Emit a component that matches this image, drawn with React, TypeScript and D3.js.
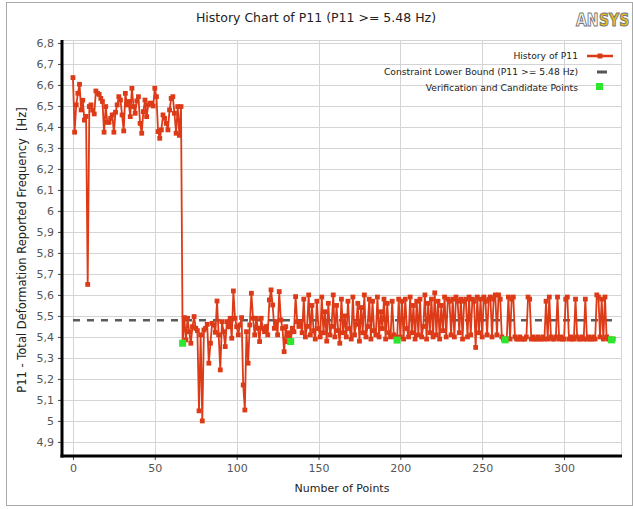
import React, { useRef, useEffect } from "react";
import * as d3 from "d3";

// history of P11 (index = point number)
const phaseStart = [
  6.635, 6.375, 6.505, 6.56, 6.603, 6.481, 6.527, 6.433, 6.45, 5.65,
  6.497, 6.505, 6.48, 6.462, 6.571, 6.56, 6.555, 6.536, 6.521, 6.375,
  6.497, 6.422, 6.422, 6.441, 6.457, 6.375, 6.47, 6.505, 6.544, 6.528,
  6.457, 6.381, 6.56, 6.505, 6.521, 6.449, 6.584, 6.497, 6.465, 6.524,
  6.544, 6.417, 6.37, 6.473, 6.528, 6.449, 6.505, 6.513, 6.513, 6.5,
  6.584, 6.544, 6.378, 6.346, 6.386, 6.457, 6.441, 6.417, 6.386, 6.481,
  6.536, 6.544, 6.465, 6.37, 6.497, 6.36, 6.497,
];
const phaseDrop = [
  5.37, 5.492, 5.386, 5.489, 5.425, 5.37, 5.449, 5.497, 5.441, 5.43,
  5.048, 5.41, 5.0, 5.433, 5.441, 5.46, 5.275, 5.37, 5.465, 5.457,
  5.422, 5.571, 5.41, 5.243, 5.473, 5.425, 5.354, 5.473, 5.449, 5.489,
  5.394, 5.619, 5.489, 5.449, 5.41, 5.457, 5.492, 5.171, 5.052, 5.425,
  5.275, 5.457, 5.608, 5.489, 5.41, 5.489, 5.441, 5.378, 5.489, 5.441,
  5.425, 5.449, 5.41, 5.576, 5.624, 5.552, 5.441, 5.473, 5.41, 5.616,
  5.481, 5.441, 5.33, 5.449, 5.378, 5.42, 5.378, 5.441, 5.425, 5.592,
  5.473, 5.45,
];
const phaseMid = [
  5.47, 5.42, 5.58, 5.4, 5.45, 5.6, 5.41, 5.55, 5.43, 5.39,
  5.57, 5.44, 5.4, 5.59, 5.42, 5.52, 5.38, 5.56, 5.41, 5.45,
  5.6, 5.4, 5.55, 5.43, 5.37, 5.58, 5.42, 5.5, 5.4, 5.57,
  5.44, 5.39, 5.59, 5.41, 5.46, 5.56, 5.38, 5.54, 5.42, 5.6,
  5.4, 5.45, 5.58, 5.39, 5.57, 5.43, 5.41, 5.59, 5.4, 5.52,
  5.44, 5.58, 5.39, 5.56, 5.42, 5.4, 5.57, 5.41, 5.4, 5.385,
  5.58, 5.4, 5.57, 5.39, 5.58, 5.44, 5.4, 5.59, 5.42, 5.55,
  5.39, 5.57, 5.41, 5.58, 5.4, 5.45, 5.6, 5.39, 5.56, 5.42,
  5.58, 5.4, 5.61, 5.41, 5.57, 5.39, 5.55, 5.43, 5.59, 5.4,
  5.58, 5.57, 5.41, 5.58, 5.4, 5.59, 5.57, 5.42, 5.58, 5.39,
  5.57, 5.58, 5.4, 5.59, 5.41, 5.58, 5.57, 5.35, 5.59, 5.42,
  5.58, 5.4, 5.59, 5.57, 5.41, 5.58, 5.59, 5.4, 5.58, 5.6,
  5.41, 5.6, 5.58, 5.4, 5.39,
];
const phaseEnd = [
  5.386, 5.39, 5.59, 5.39, 5.58, 5.59, 5.4, 5.39, 5.39, 5.4,
  5.39, 5.39, 5.39, 5.4, 5.59, 5.58, 5.39, 5.4, 5.39, 5.39,
  5.4, 5.39, 5.39, 5.4, 5.39, 5.57, 5.39, 5.59, 5.4, 5.39,
  5.39, 5.4, 5.59, 5.39, 5.4, 5.39, 5.39, 5.58, 5.59, 5.39,
  5.4, 5.39, 5.39, 5.58, 5.4, 5.39, 5.39, 5.4, 5.39, 5.58,
  5.39, 5.4, 5.39, 5.39, 5.4, 5.39, 5.6, 5.59, 5.4, 5.58,
  5.39, 5.59, 5.4, 5.39, 5.39, 5.386, 5.39,
];
const history = [...phaseStart, ...phaseDrop, ...phaseMid, ...phaseEnd];

const verifIdx = [67, 133, 198, 264, 329];
const verifVal = [5.37, 5.378, 5.385, 5.386, 5.386];
const lowerBound = 5.48;

const xTicks = [0, 50, 100, 150, 200, 250, 300];
const yTicks = [4.9, 5, 5.1, 5.2, 5.3, 5.4, 5.5, 5.6, 5.7, 5.8, 5.9, 6, 6.1, 6.2, 6.3, 6.4, 6.5, 6.6, 6.7, 6.8];

const legendLabels = ["History of P11", "Constraint Lower Bound (P11 >= 5.48 Hz)", "Verification and Candidate Points"];

const RED = "#dd3b17";
const GREEN = "#2ee62e";
const FONT = "DejaVu Sans, sans-serif";

const App = () => {
  const svgRef = useRef(null);

  useEffect(() => {
    const svg = d3.select(svgRef.current);
    svg.selectAll("*").remove();

    const width = 633;
    const height = 509;
    const left = 62, right = 622, top = 40, bottom = 456;

    svg.attr("width", width).attr("height", height);

    // outer frame
    svg.append("rect")
      .attr("x", 6.5).attr("y", 2.5)
      .attr("width", 626).attr("height", 503)
      .attr("fill", "#fff").attr("stroke", "#a8a8a8");

    const x = d3.scaleLinear().domain([-6.7, 335.4]).range([left, right]);
    const y = d3.scaleLinear().domain([4.833, 6.814]).range([bottom, top]);

    // grid
    const grid = svg.append("g");
    grid.selectAll("line.h").data(yTicks).enter().append("line")
      .attr("x1", left).attr("x2", right)
      .attr("y1", d => Math.round(y(d)) + 0.5).attr("y2", d => Math.round(y(d)) + 0.5)
      .attr("stroke", "#d4d4d4");
    grid.selectAll("line.v").data(xTicks).enter().append("line")
      .attr("y1", top).attr("y2", bottom)
      .attr("x1", d => Math.round(x(d)) + 0.5).attr("x2", d => Math.round(x(d)) + 0.5)
      .attr("stroke", "#d4d4d4");
    grid.append("rect")
      .attr("x", left).attr("y", top + 0.5)
      .attr("width", right - left - 0.5).attr("height", bottom - top)
      .attr("fill", "none").attr("stroke", "#d4d4d4");

    // constraint lower bound
    svg.append("line")
      .attr("x1", x(0)).attr("x2", x(history.length - 1))
      .attr("y1", y(lowerBound)).attr("y2", y(lowerBound))
      .attr("stroke", "#5a5a5a").attr("stroke-width", 2.5)
      .attr("stroke-dasharray", "7,7");

    // history line + markers
    const line = d3.line().x((d, i) => x(i)).y(d => y(d));
    svg.append("path")
      .datum(history)
      .attr("d", line)
      .attr("fill", "none")
      .attr("stroke", RED)
      .attr("stroke-width", 1.8);

    svg.append("g").selectAll("rect").data(history).enter().append("rect")
      .attr("x", (d, i) => x(i) - 2.4).attr("y", d => y(d) - 2.4)
      .attr("width", 4.8).attr("height", 4.8)
      .attr("fill", RED);

    // verification points
    svg.append("g").selectAll("rect").data(verifIdx).enter().append("rect")
      .attr("x", d => x(d) - 3.5).attr("y", (d, i) => y(verifVal[i]) - 3.5)
      .attr("width", 7).attr("height", 7)
      .attr("fill", GREEN);

    // axes
    const yAxis = d3.axisLeft(y).tickValues(yTicks).tickSize(4)
      .tickFormat(d => String(d).replace(".", ","));
    const ya = svg.append("g").attr("transform", `translate(${left},0)`).call(yAxis);
    ya.select(".domain").remove();
    ya.selectAll(".tick line").attr("stroke", "#444");
    ya.selectAll(".tick text").attr("fill", "#555").attr("font-size", 11).attr("font-family", FONT).attr("x", -8);

    const xAxis = d3.axisBottom(x).tickValues(xTicks).tickSize(4);
    const xa = svg.append("g").attr("transform", `translate(0,${bottom})`).call(xAxis);
    xa.select(".domain").remove();
    xa.selectAll(".tick line").attr("stroke", "#444");
    xa.selectAll(".tick text").attr("fill", "#555").attr("font-size", 11).attr("font-family", FONT).attr("y", 8);

    svg.append("line").attr("x1", left).attr("x2", left).attr("y1", top).attr("y2", bottom + 1.5)
      .attr("stroke", "#000").attr("stroke-width", 3);
    svg.append("line").attr("x1", left - 1.5).attr("x2", right).attr("y1", bottom).attr("y2", bottom)
      .attr("stroke", "#000").attr("stroke-width", 3);

    // titles
    svg.append("text")
      .attr("x", 316).attr("y", 22)
      .attr("text-anchor", "middle")
      .attr("font-family", FONT).attr("font-size", 12.5).attr("fill", "#222")
      .text("History Chart of P11 (P11 >= 5.48 Hz)");

    svg.append("text")
      .attr("x", 342).attr("y", 492)
      .attr("text-anchor", "middle")
      .attr("font-family", FONT).attr("font-size", 11).attr("fill", "#222")
      .text("Number of Points");

    svg.append("text")
      .attr("transform", "translate(26,250) rotate(-90)")
      .attr("text-anchor", "middle")
      .attr("font-family", FONT).attr("font-size", 11.5).attr("fill", "#222")
      .attr("xml:space", "preserve")
      .style("white-space", "pre")
      .text("P11 - Total Deformation Reported Frequency  [Hz]");

    // logo
    const logo = svg.append("g").attr("transform", "translate(576,26) scale(1,1.3)");
    logo.append("text")
      .attr("x", 0).attr("y", 0)
      .attr("font-family", FONT).attr("font-size", 14).attr("font-weight", "bold")
      .attr("stroke", "#7a7a7a").attr("stroke-width", 0.9).attr("fill", "#fff")
      .text("AN");
    logo.append("text")
      .attr("x", 23).attr("y", 0)
      .attr("font-family", FONT).attr("font-size", 14).attr("font-weight", "bold")
      .attr("stroke", "#7a7a7a").attr("stroke-width", 0.9).attr("fill", "#f0c21a")
      .text("SYS");

    // legend
    const lg = svg.append("g");
    lg.selectAll("text").data(legendLabels).enter().append("text")
      .attr("x", 578).attr("y", (d, i) => 59 + i * 16)
      .attr("text-anchor", "end")
      .attr("font-family", FONT).attr("font-size", 9.2).attr("fill", "#222")
      .text(d => d);
    lg.append("line").attr("x1", 587).attr("x2", 613).attr("y1", 56).attr("y2", 56)
      .attr("stroke", RED).attr("stroke-width", 2.5);
    lg.append("rect").attr("x", 597.5).attr("y", 53.5).attr("width", 5).attr("height", 5).attr("fill", RED);
    lg.append("line").attr("x1", 597).attr("x2", 607).attr("y1", 72).attr("y2", 72)
      .attr("stroke", "#555").attr("stroke-width", 3);
    lg.append("rect").attr("x", 596).attr("y", 83).attr("width", 7).attr("height", 7).attr("fill", GREEN);
  }, []);

  return (
    <svg ref={svgRef} style={{ position: "absolute", left: 0, top: 0 }}></svg>
  );
};

export default App;
